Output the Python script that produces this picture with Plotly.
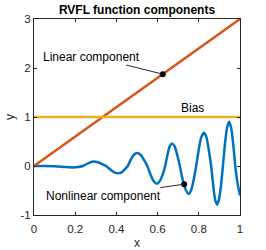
import plotly.graph_objects as go

# Nonlinear component
nl_x = [0.00, 0.05, 0.10, 0.15, 0.19, 0.215, 0.24, 0.265, 0.287, 0.31, 0.33, 0.35, 0.37,
        0.39, 0.41, 0.425, 0.44, 0.455, 0.470, 0.485, 0.500, 0.517, 0.533, 0.550, 0.566,
        0.581, 0.597, 0.610, 0.624, 0.637, 0.648, 0.659, 0.670, 0.683, 0.695, 0.708,
        0.722, 0.737, 0.751, 0.763, 0.775, 0.787, 0.800, 0.812, 0.825, 0.837, 0.848,
        0.860, 0.870, 0.879, 0.889, 0.898, 0.908, 0.917, 0.927, 0.937, 0.947, 0.957,
        0.967, 0.977, 0.988, 1.000]
nl_y = [0.000, 0.000, -0.005, -0.020, -0.030, -0.020, 0.005, 0.060, 0.090, 0.075, 0.040,
        0.000, -0.070, -0.130, -0.150, -0.130, -0.070, 0.000, 0.130, 0.230, 0.265, 0.230,
        0.130, 0.000, -0.180, -0.310, -0.360, -0.310, -0.180, 0.000, 0.230, 0.400, 0.460,
        0.400, 0.230, 0.000, -0.285, -0.490, -0.570, -0.490, -0.285, 0.000, 0.340, 0.590,
        0.680, 0.590, 0.340, 0.000, -0.395, -0.684, -0.790, -0.684, -0.395, 0.000, 0.450,
        0.780, 0.905, 0.780, 0.450, 0.000, -0.350, -0.600]

# Linear component
lin_x = [0.0, 1.0]
lin_y = [0.0, 3.0]

# Bias
bias_x = [0.0, 1.0]
bias_y = [1.0, 1.0]

# Highlighted points
lin_pt = (0.625, 1.875)
nl_pt = (0.729, -0.37)

# Labels
lin_label = (0.281, 2.234, "Linear component")
nl_label = (0.335, -0.615, "Nonlinear component")
bias_label = (0.771, 1.176, "Bias")

x_ticks = [0, 0.2, 0.4, 0.6, 0.8, 1]
x_ticktext = ["0", "0.2", "0.4", "0.6", "0.8", "1"]
y_ticks = [-1, 0, 1, 2, 3]
y_ticktext = ["-1", "0", "1", "2", "3"]

BLUE = "#0072BD"
ORANGE = "#D95319"
YELLOW = "#EDB120"
AX = "#262626"
FONT = "Liberation Sans, Arial, sans-serif"

fig = go.Figure()
fig.add_trace(go.Scatter(x=nl_x, y=nl_y, mode="lines",
                         line=dict(color=BLUE, width=2.5, shape="spline", smoothing=0.5)))
fig.add_trace(go.Scatter(x=lin_x, y=lin_y, mode="lines", line=dict(color=ORANGE, width=2.5)))
fig.add_trace(go.Scatter(x=bias_x, y=bias_y, mode="lines", line=dict(color=YELLOW, width=2.5)))
fig.add_trace(go.Scatter(x=[lin_pt[0], nl_pt[0]], y=[lin_pt[1], nl_pt[1]], mode="markers",
                         marker=dict(color="black", size=6), cliponaxis=False))

for (tx, ty, txt), pt in [(lin_label, lin_pt), (nl_label, nl_pt)]:
    fig.add_annotation(x=pt[0], y=pt[1], ax=tx, ay=ty, axref="x", ayref="y",
                       xref="x", yref="y", text=txt, showarrow=True, arrowhead=0,
                       arrowwidth=1, arrowcolor=AX, standoff=0, startstandoff=0,
                       font=dict(family=FONT, size=12, color="black"))
fig.add_annotation(x=bias_label[0], y=bias_label[1], xref="x", yref="y",
                   text=bias_label[2], showarrow=False,
                   font=dict(family=FONT, size=12, color="black"))

# Axis titles
fig.add_annotation(x=0.5, y=-0.143, xref="paper", yref="paper", text="x", showarrow=False,
                   xanchor="center", yanchor="middle",
                   font=dict(family=FONT, size=12, color=AX))
fig.add_annotation(x=-0.1165, y=0.5, xref="paper", yref="paper", text="y", showarrow=False,
                   xanchor="center", yanchor="middle", textangle=-90,
                   font=dict(family=FONT, size=12, color=AX))

axis_common = dict(showgrid=False, zeroline=False, showline=True, linecolor=AX, linewidth=1,
                   mirror="allticks", ticks="inside", ticklen=3, tickwidth=1, tickcolor=AX,
                   automargin=False,
                   tickfont=dict(family=FONT, size=11.5, color=AX))

fig.update_layout(
    width=266, height=250,
    margin=dict(l=34, r=26, t=19, b=35),
    plot_bgcolor="white", paper_bgcolor="white",
    showlegend=False,
    title=dict(text="<b>RVFL function components</b>", x=0.5, xref="paper",
               xanchor="center", y=1 - 9.5 / 250, yanchor="middle",
               font=dict(family=FONT, size=12, color="black")),
    xaxis=dict(range=[0, 1], tickvals=x_ticks, ticktext=x_ticktext, ticklabelstandoff=3,
               **axis_common),
    yaxis=dict(range=[-1, 3], tickvals=y_ticks, ticktext=y_ticktext,
               **axis_common),
)

fig.write_html("out.html", config={"displayModeBar": False},
               post_script="document.body.style.margin='0';document.body.style.overflow='hidden';")
